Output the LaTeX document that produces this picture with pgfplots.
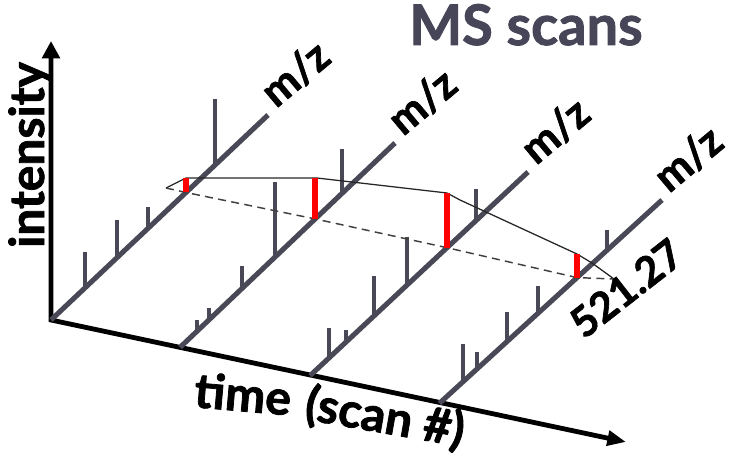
\documentclass[border=0pt]{standalone}
\usepackage{fontspec}
\setmainfont{Lato}[BoldFeatures={FakeBold=1.6}]
\usepackage{pgfplots}
\pgfplotsset{compat=1.18}
\usetikzlibrary{arrows.meta}
\definecolor{msgray}{RGB}{72,72,86}
\definecolor{ttl}{RGB}{70,70,88}
\newcommand{\fs}[1]{\fontsize{#1}{#1}\selectfont\bfseries}
\begin{document}
\begin{tikzpicture}
\useasboundingbox (0,0) rectangle (549.75pt,339.75pt);
\begin{axis}[scale only axis, width=549.75pt, height=339.75pt,
  xmin=0, xmax=733, ymin=0, ymax=453, y dir=reverse, hide axis, clip=false,
  pk/.style={msgray, line width=3.2pt, no marks},
  ax/.style={msgray, line width=3.8pt, no marks},
  rd/.style={red, line width=3.8pt, no marks}]
% main black axes (intensity up, time to the right)
\addplot[black, line width=3.6pt, no marks, line join=miter,
  arrows={Triangle[length=13pt,width=13pt]-Triangle[length=14pt,width=11pt]}]
  coordinates {(51,41)(51,320)(626,442)};
% m/z axes
\addplot[ax] coordinates {(51,320)(268,115)};
\addplot[ax] coordinates {(180,347.4)(395,143)};
\addplot[ax] coordinates {(310,375.7)(528,172)};
\addplot[ax] coordinates {(439.4,403.3)(662,200)};
% scan 1 peaks
\addplot[pk] coordinates {(85,287.9)(85,252)};
\addplot[pk] coordinates {(117,257.7)(117,220)};
\addplot[pk] coordinates {(148,228.4)(148,207)};
\addplot[pk] coordinates {(215,165.1)(215,99)};
% scan 2 peaks
\addplot[pk] coordinates {(197,330.9)(197,320)};
\addplot[pk] coordinates {(209,319.5)(209,308)};
\addplot[pk] coordinates {(242,288.2)(242,266)};
\addplot[pk] coordinates {(275,256.9)(275,182)};
\addplot[pk] coordinates {(342,193.3)(342,149)};
% scan 3 peaks
\addplot[pk] coordinates {(329,358)(329,328)};
\addplot[pk] coordinates {(346,342.1)(346,330)};
\addplot[pk] coordinates {(374,316)(374,276)};
\addplot[pk] coordinates {(407,285.1)(407,237)};
\addplot[pk] coordinates {(476,220.6)(476,189)};
% scan 4 peaks
\addplot[pk] coordinates {(463,381.7)(463,344)};
\addplot[pk] coordinates {(477,369)(477,352)};
\addplot[pk] coordinates {(507,341.6)(507,312)};
\addplot[pk] coordinates {(538,313.2)(538,286)};
\addplot[pk] coordinates {(607,250.2)(607,230)};
% envelope lines
\addplot[black!85, line width=0.95pt, no marks] coordinates
  {(166,188)(186,178)(317,178)(447,193)(460,200)(577,254)(592,263)(614,279)};
\addplot[black!75, line width=1.1pt, no marks, dash pattern=on 6pt off 4pt] coordinates
  {(166,188)(186,192.5)(315,218.9)(447,247.7)(577,277.6)(614,279)};
% red bars (m/z 521.27)
\addplot[rd] coordinates {(186,192.5)(186,178)};
\addplot[rd] coordinates {(315,218.9)(315,178)};
\addplot[rd] coordinates {(447,247.7)(447,193)};
\addplot[rd] coordinates {(577,277.6)(577,254)};
% labels
\node[ttl, anchor=base, inner sep=0pt, font=\fs{42pt}] at (axis cs:526,45) {MS scans};
\node[black, rotate=90, anchor=base, inner sep=0pt, font=\fs{36pt}] at (axis cs:44,155) {intensity};
\node[black, rotate=40, anchor=base west, inner sep=0pt, font=\fs{32pt}] at (axis cs:276,109) {m/z};
\node[black, rotate=40, anchor=base west, inner sep=0pt, font=\fs{32pt}] at (axis cs:403,137) {m/z};
\node[black, rotate=40, anchor=base west, inner sep=0pt, font=\fs{32pt}] at (axis cs:536,166) {m/z};
\node[black, rotate=40, anchor=base west, inner sep=0pt, font=\fs{32pt}] at (axis cs:669,194) {m/z};
\node[black, rotate=38, anchor=base west, inner sep=0pt, font=\fs{31pt}] at (axis cs:584,340) {521.27};
\node[black, rotate=-5, anchor=base west, inner sep=0pt, font=\fs{36pt}] at (axis cs:193,407) {time};
\node[black, rotate=-10, anchor=base west, inner sep=0pt, font=\fs{36pt}] at (axis cs:303,419) {(scan \#)};
\end{axis}
\end{tikzpicture}
\end{document}
